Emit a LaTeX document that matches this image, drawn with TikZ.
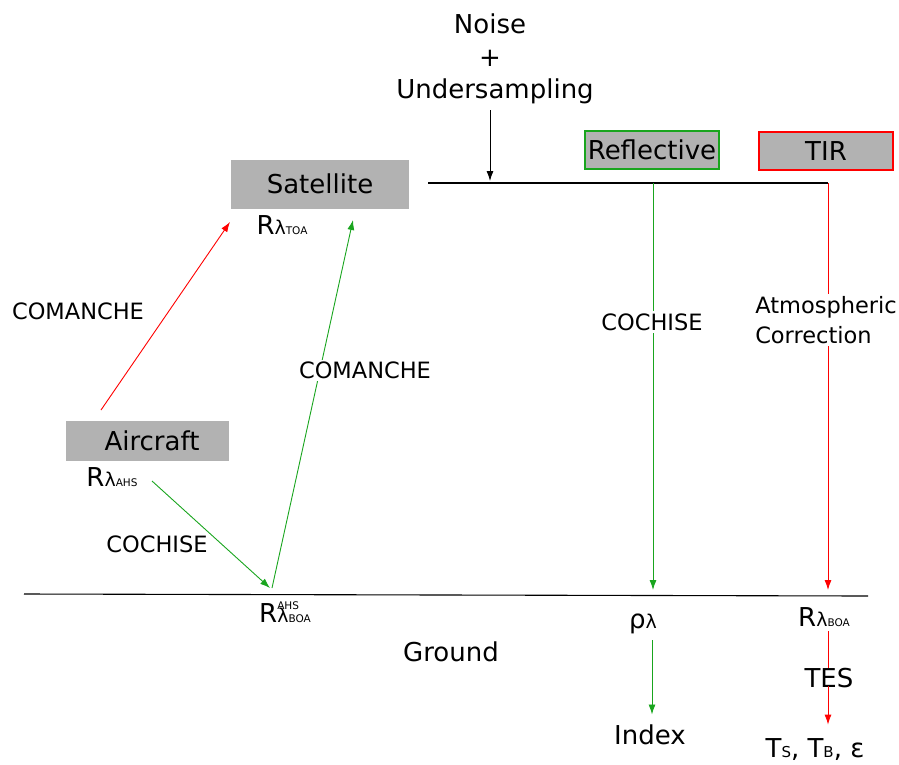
\documentclass[tikz,border=0pt]{standalone}
\usepackage{fontspec}
\setmainfont{DejaVu Sans}
\usetikzlibrary{arrows.meta,positioning}
\definecolor{darkgreen}{RGB}{25,165,30}
\newcommand{\bigtxt}{\fontsize{26}{31}\selectfont}
\newcommand{\labtxt}{\fontsize{22.5}{30}\selectfont}
\newcommand{\lamtxt}{\fontsize{19}{19}\selectfont}
\newcommand{\subtxt}{\fontsize{10.5}{10.5}\selectfont}
\newcommand{\Rlam}[1]{{\bigtxt R}{\lamtxt λ}{\subtxt #1}}

\begin{document}
\begin{tikzpicture}[x=1pt,y=-1pt,
    box/.style={fill=gray!60,inner sep=0pt,font=\bigtxt,line width=1.6pt},
    lab/.style={font=\labtxt,fill=white,inner sep=2pt},
    txt/.style={font=\bigtxt,inner sep=2pt},
    arr/.style={-{Latex[length=10pt,width=7pt]}},
    every path/.style={line width=0.9pt}]
        \useasboundingbox (0,0) rectangle (899,764);
        %Coordinates
        \coordinate (g1) at (24,594);
        \coordinate (g2) at (868,596);
        \coordinate (t1) at (428,183);
        \coordinate (t2) at (653,183);
        \coordinate (t3) at (828,183);
        \coordinate (n1) at (490,110);
        \coordinate (n2) at (490,181);
        \coordinate (a1) at (101,410);
        \coordinate (a2) at (230,222);
        \coordinate (b1) at (152,481);
        \coordinate (b2) at (270,588);
        \coordinate (b3) at (272,588);
        \coordinate (s1) at (353,220);
        \coordinate (r1) at (653,590);
        \coordinate (c1) at (828,590);
        %Boxes
        \node[box,minimum width=178,minimum height=49] (sat) at (320,184) {Satellite};
        \node[box,minimum width=163,minimum height=40] (air) at (147.5,441) {\hspace{9pt}\raisebox{-2pt}{Aircraft}};
        \node[box,draw=darkgreen,minimum width=134,minimum height=38] (refl) at (652,150) {Reflective};
        \node[box,draw=red,minimum width=134,minimum height=38] (tir) at (826,151) {TIR};
        %Top text
        \node[txt] (noise) at (490,24) {Noise};
        \node[txt] (plus) at (490,58) {+};
        \node[txt] (under) at (495,91) {Undersampling};
        %Quantities
        \node[inner sep=0pt] (rtoa) at (282,225) {\Rlam{TOA}};
        \node[inner sep=0pt] (rahs) at (112,477) {\Rlam{AHS}};
        \node[inner sep=0pt] (rbah) at (285,612) {{\bigtxt R}\rlap{\raisebox{13pt}{\subtxt AHS}}{\lamtxt λ}{\subtxt BOA}};
        \node[inner sep=0pt] (rho) at (643,624) {{\bigtxt ρ}{\lamtxt λ}};
        \node[inner sep=0pt] (rboa) at (824,617) {\Rlam{BOA}};
        \node[txt] (ground) at (451,652) {Ground};
        \node[txt] (index) at (650,735) {Index};
        \node[txt] (tes) at (829,678) {TES};
        \node[txt] (temps) at (815,750) {T{\fontsize{15}{15}\selectfont S}, T{\fontsize{15}{15}\selectfont B}, ε};
        %Lines
        \draw[line width=1.1pt] (g1) -- (g2);
        \draw[line width=1.1pt] (t1) -- (t3);
        \draw[arr] (n1) -- (n2);
        \draw[red,arr] (a1) -- (a2);
        \draw[darkgreen,arr] (b1) -- (b2);
        \draw[darkgreen,arr] (b3) -- (s1);
        \draw[darkgreen,arr] (t2) -- (r1);
        \draw[red,arr] (t3) -- (c1);
        \draw[darkgreen,arr] ([xshift=9pt,yshift=-6pt]rho.south) -- ([yshift=8pt]index.north -| 652,0);
        \draw[red] ([xshift=4pt,yshift=-4pt]rboa.south) -- ([yshift=-2pt]tes.north -| 828,0);
        \draw[red,arr] ([yshift=4pt]tes.south -| 828,0) -- ([yshift=12pt]temps.north -| 828,0);
        %Labels
        \node[lab] (coman1) at (78,311) {COMANCHE};
        \node[lab] (coman2) at (365,370) {COMANCHE};
        \node[lab] (coch1) at (157,544) {COCHISE};
        \node[lab] (coch2) at (652,322) {COCHISE};
        \node[lab,align=left] (atm) at (826,320) {Atmospheric\\Correction};
\end{tikzpicture}
\end{document}
